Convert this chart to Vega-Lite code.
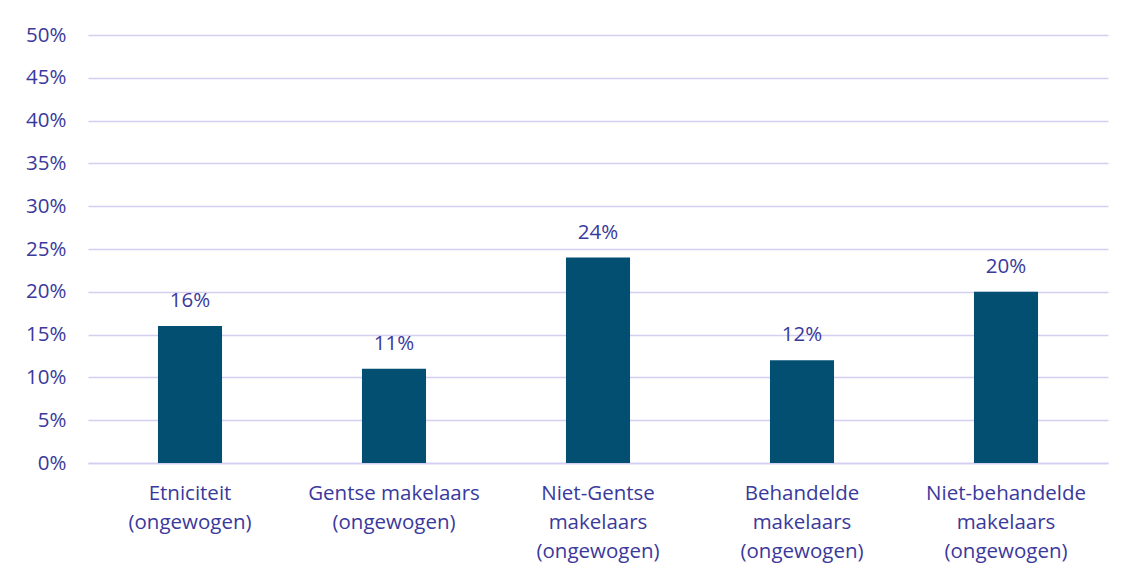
{
  "$schema": "https://vega.github.io/schema/vega-lite/v6.json",
  "width": 1020,
  "height": 428,
  "autosize": {"type": "none"},
  "padding": {"left": 88, "top": 35, "right": 24, "bottom": 118},
  "background": "white",
  "data": {
    "values": [
      {"categorie": "Etniciteit (ongewogen)", "aandeel": 0.16},
      {"categorie": "Gentse makelaars (ongewogen)", "aandeel": 0.11},
      {"categorie": "Niet-Gentse makelaars (ongewogen)", "aandeel": 0.24},
      {"categorie": "Behandelde makelaars (ongewogen)", "aandeel": 0.12},
      {"categorie": "Niet-behandelde makelaars (ongewogen)", "aandeel": 0.20}
    ]
  },
  "config": {
    "font": "Open Sans",
    "view": {"stroke": null}
  },
  "encoding": {
    "x": {
      "field": "categorie",
      "type": "nominal",
      "sort": null,
      "scale": {"paddingInner": 0.686, "paddingOuter": 0.343},
      "axis": {
        "title": null,
        "labelAngle": 0,
        "labelFont": "Open Sans",
        "labelFontSize": 20.5,
        "labelColor": "#3a399c",
        "labelPadding": 20,
        "labelBaseline": "top",
        "labelLineHeight": 29,
        "labelLimit": 300,
        "ticks": false,
        "domain": true,
        "domainColor": "#d3cff1",
        "domainWidth": 1.5,
        "labelExpr": "datum.value == 'Etniciteit (ongewogen)' ? ['Etniciteit', '(ongewogen)'] : datum.value == 'Gentse makelaars (ongewogen)' ? ['Gentse makelaars', '(ongewogen)'] : datum.value == 'Niet-Gentse makelaars (ongewogen)' ? ['Niet-Gentse', 'makelaars', '(ongewogen)'] : datum.value == 'Behandelde makelaars (ongewogen)' ? ['Behandelde', 'makelaars', '(ongewogen)'] : ['Niet-behandelde', 'makelaars', '(ongewogen)']"
      }
    },
    "y": {
      "field": "aandeel",
      "type": "quantitative",
      "scale": {"domain": [0, 0.5], "nice": false},
      "axis": {
        "title": null,
        "format": ".0%",
        "values": [0, 0.05, 0.1, 0.15, 0.2, 0.25, 0.3, 0.35, 0.4, 0.45, 0.5],
        "labelFont": "Open Sans",
        "labelFontSize": 20.5,
        "labelColor": "#3a399c",
        "labelPadding": 22,
        "ticks": false,
        "domain": false,
        "grid": true,
        "gridColor": "#d3cff1",
        "gridWidth": 1.5
      }
    }
  },
  "layer": [
    {
      "mark": {"type": "bar", "color": "#034f72"}
    },
    {
      "mark": {
        "type": "text",
        "baseline": "bottom",
        "dy": -15,
        "font": "Open Sans",
        "fontSize": 20.5,
        "color": "#3a399c"
      },
      "encoding": {
        "text": {"field": "aandeel", "type": "quantitative", "format": ".0%"}
      }
    }
  ]
}
